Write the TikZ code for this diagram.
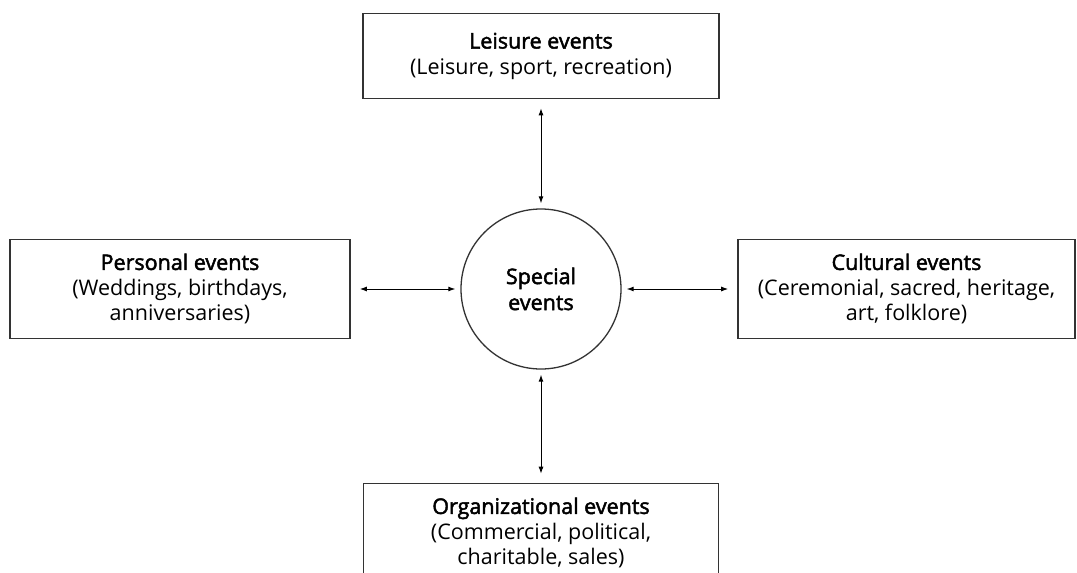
\documentclass[tikz,border=0pt]{standalone}
\usepackage{fontspec}
\setmainfont{Open Sans}
\newfontface\titlefont{Open Sans}[FakeBold=2.2]
\usetikzlibrary{arrows.meta}

\begin{document}
\begin{tikzpicture}[x=1pt, y=-1pt,
  evbox/.style={draw=black!80, line width=1.6pt, align=center, inner sep=0pt,
    minimum height=99pt, font=\fontsize{21.5}{25.5}\selectfont},
  hub/.style={circle, draw=black!80, line width=1.3pt, minimum size=160pt,
    inner sep=0pt, align=center, font=\fontsize{21.5}{26}\titlefont},
  link/.style={{Latex[length=7pt,width=5pt]}-{Latex[length=7pt,width=5pt]},
    line width=1pt, shorten <=5pt, shorten >=9pt}]
\useasboundingbox (0,0) rectangle (1077,573);
\clip (0,0) rectangle (1077,573);
\node[hub] (special) at (541,289) {Special\\events};
\node[evbox, minimum width=356pt, minimum height=85pt] (leisure) at (541,56)
  {{\titlefont Leisure events}\\(Leisure, sport, recreation)};
\node[evbox, minimum width=340pt] (personal) at (180,289)
  {{\titlefont Personal events}\\(Weddings, birthdays,\\anniversaries)};
\node[evbox, minimum width=337pt] (cultural) at (906.5,289)
  {{\titlefont Cultural events}\\(Ceremonial, sacred, heritage,\\art, folklore)};
\node[evbox, minimum width=355pt] (organizational) at (541,533)
  {{\titlefont Organizational events}\\(Commercial, political,\\charitable, sales)};
% connectors
\draw[link] (special) -- (leisure);
\draw[link] (special) -- (personal);
\draw[link] (special) -- (cultural);
\draw[link] (special) -- (organizational);
\end{tikzpicture}
\end{document}
